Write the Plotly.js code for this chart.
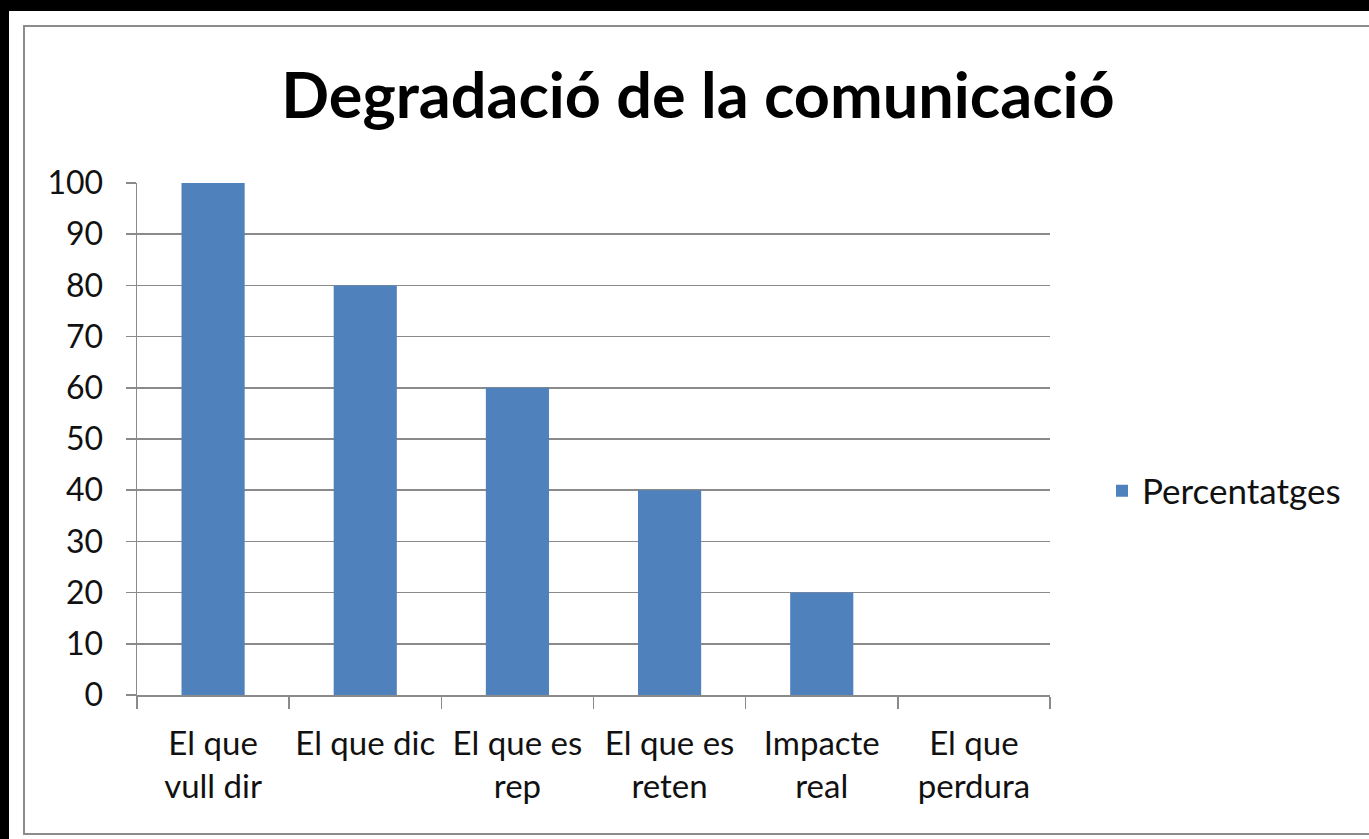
<!DOCTYPE html>
<html>
<head>
<meta charset="utf-8">
<script src="https://cdn.plot.ly/plotly-3.0.1.min.js"></script>
<style>html,body{margin:0;padding:0;background:#000;}#chart{width:1369px;height:839px;}</style>
</head>
<body>
<div id="chart"></div>
<script>
const categories = ["El que vull dir", "El que dic", "El que es rep", "El que es reten", "Impacte real", "El que perdura"];
const tickLabels = ["El que<br>vull dir", "El que dic", "El que es<br>rep", "El que es<br>reten", "Impacte<br>real", "El que<br>perdura"];
const percentatges = [100, 80, 60, 40, 20, 0];
const seriesName = "Percentatges";
const chartTitle = "Degradació de la comunicació";

const W = 1369, H = 839;
const L = 137, R = 1050, T = 183, B = 695;
const pw = R - L, ph = B - T;
const px = v => (v - L) / pw;
const py = v => (B - v) / ph;

const FONT = "Lato, 'Open Sans', sans-serif";
const GRID = "#8a8a8a";
const TXT = "#111";

const data = [{
  type: "bar",
  x: categories,
  y: percentatges,
  name: seriesName,
  marker: {color: "#4f81bd"},
  showlegend: true
}];

const layout = {
  width: W, height: H,
  margin: {l: L, r: W - R, t: T, b: H - B, pad: 0},
  paper_bgcolor: "#000",
  plot_bgcolor: "#fff",
  bargap: 0.585,
  title: {
    text: "<b>" + chartTitle + "</b>",
    font: {family: FONT, size: 63, color: "#000"},
    xref: "paper", x: px(698), xanchor: "center",
    yref: "container", y: 1 - 96 / H, yanchor: "middle"
  },
  xaxis: {
    type: "category",
    tickmode: "array",
    tickvals: categories,
    ticktext: tickLabels,
    range: [-0.5, 5.5],
    showline: true, linecolor: GRID, linewidth: 1.5,
    ticks: "outside", tickson: "boundaries", ticklen: 12, tickcolor: GRID, tickwidth: 1.5,
    showgrid: false,
    tickfont: {family: FONT, size: 33, color: TXT},
    ticklabelstandoff: 19,
    fixedrange: true
  },
  yaxis: {
    range: [0, 100],
    dtick: 10,
    showline: true, linecolor: GRID, linewidth: 1.5,
    ticks: "outside", ticklen: 10, tickcolor: GRID, tickwidth: 1.5,
    showgrid: true, gridcolor: GRID, gridwidth: 1.5,
    zeroline: false,
    tickfont: {family: FONT, size: 32, color: TXT},
    ticklabelstandoff: 16,
    fixedrange: true
  },
  legend: {
    x: px(1102), xanchor: "left",
    y: py(491), yanchor: "middle",
    font: {family: FONT, size: 35, color: TXT},
    bgcolor: "rgba(0,0,0,0)"
  },
  shapes: [
    {type: "rect", xref: "paper", yref: "paper", layer: "below",
     x0: px(9), x1: px(1400), y0: py(860), y1: py(11),
     fillcolor: "#fff", line: {width: 0}},
    {type: "rect", xref: "paper", yref: "paper", layer: "below",
     x0: px(24), x1: px(1420), y0: py(834), y1: py(26),
     fillcolor: "rgba(0,0,0,0)", line: {color: "#8c8c8c", width: 2}}
  ]
};

Plotly.newPlot("chart", data, layout, {displayModeBar: false, staticPlot: true});
</script>
</body>
</html>
